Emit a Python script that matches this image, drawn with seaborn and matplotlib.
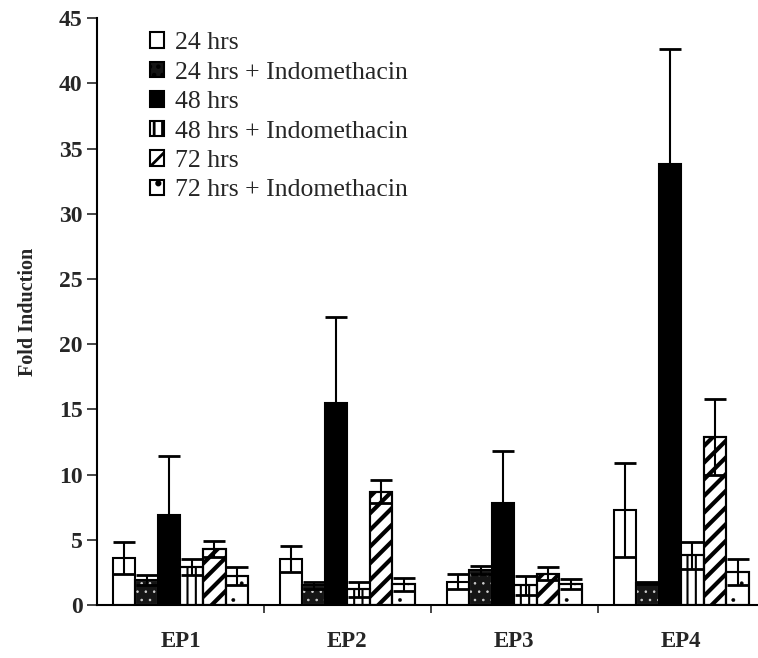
import matplotlib
matplotlib.use("Agg")
import matplotlib.pyplot as plt
import numpy as np
import pandas as pd
import seaborn as sns
from matplotlib.patches import Patch

groups = ["EP1", "EP2", "EP3", "EP4"]
treatments = ["24 hrs", "24 hrs + Indomethacin", "48 hrs",
              "48 hrs + Indomethacin", "72 hrs", "72 hrs + Indomethacin"]

# fold induction (rows = treatment, cols = EP1..EP4)
means = {
    "24 hrs":                [3.6, 3.5, 1.8, 7.3],
    "24 hrs + Indomethacin": [1.9, 1.5, 2.7, 1.7],
    "48 hrs":                [6.9, 15.5, 7.8, 33.8],
    "48 hrs + Indomethacin": [2.9, 1.2, 1.5, 3.8],
    "72 hrs":                [4.3, 8.7, 2.4, 12.9],
    "72 hrs + Indomethacin": [2.2, 1.6, 1.6, 2.5],
}
errs = {
    "24 hrs":                [1.2, 1.0, 0.6, 3.6],
    "24 hrs + Indomethacin": [0.4, 0.3, 0.3, 0.1],
    "48 hrs":                [4.5, 6.6, 4.0, 8.8],
    "48 hrs + Indomethacin": [0.6, 0.6, 0.7, 1.0],
    "72 hrs":                [0.6, 0.9, 0.5, 2.9],
    "72 hrs + Indomethacin": [0.7, 0.5, 0.4, 1.0],
}

faces = ["white", "#151515", "black", "white", "white", "white"]
hatches = [None, "..", None, "||", "//", "."]
hatch_cols = ["black", "#d0d0d0", "black", "black", "black", "black"]
hatch_lw = [1.0, 0.6, 1.0, 1.5, 3.0, 0.3]

rows = []
for t in treatments:
    for g, m, e in zip(groups, means[t], errs[t]):
        rows.append({"group": g, "treatment": t, "fold": m, "err": e})
df = pd.DataFrame(rows)

sns.set_theme(style="white")
plt.rcParams["font.family"] = ["Liberation Serif", "DejaVu Serif"]
plt.rcParams["hatch.linewidth"] = 2.0

fig = plt.figure(figsize=(7.58, 6.58), dpi=100)
ax = fig.add_axes([0.128, 0.0805, 0.872, 0.892])

sns.barplot(data=df, x="group", y="fold", hue="treatment", order=groups,
            hue_order=treatments, errorbar=None, width=0.81,
            palette=["white"] * 6, ax=ax, legend=False)


def style_patch(p, i):
    p.set_facecolor(faces[i])
    p.set_linewidth(1.5)
    if hatches[i]:
        p.set_hatch(hatches[i])
        p.set_edgecolor(hatch_cols[i])
        if hasattr(p, "set_hatch_linewidth"):
            p.set_hatch_linewidth(hatch_lw[i])
    else:
        p.set_edgecolor("black")


# style bars by treatment, then add error bars
bar_conts = list(ax.containers)
for i, cont in enumerate(bar_conts):
    t = treatments[i]
    xs, ys = [], []
    for p in cont.patches:
        style_patch(p, i)
        xs.append(p.get_x() + p.get_width() / 2)
        ys.append(p.get_height())
        if hatches[i]:
            ax.add_patch(plt.Rectangle((p.get_x(), 0), p.get_width(), p.get_height(),
                                       fill=False, edgecolor="black", linewidth=1.5,
                                       zorder=p.get_zorder() + 0.1))
    ax.errorbar(xs, ys, yerr=errs[t], fmt="none", ecolor="black",
                elinewidth=1.5, capsize=8, capthick=2, zorder=5)

# legend
handles = []
for i, t in enumerate(treatments):
    h = Patch(label=t)
    style_patch(h, i)
    h.set_edgecolor("black")
    handles.append(h)
leg = ax.legend(handles=handles, loc="upper left", bbox_to_anchor=(0.080, 0.976),
                frameon=False, fontsize=18.5, handlelength=0.56, handleheight=0.56,
                handletextpad=0.42, labelspacing=0.29, borderaxespad=0.0,
                borderpad=0.0)

ax.set_ylim(0, 45)
ax.set_yticks(np.arange(0, 46, 5))
ax.set_xlim(-0.5, 3.46)
ax.set_xticks([0.5, 1.5, 2.5])
ax.set_xticklabels([])
ax.set_xticks(range(len(groups)), minor=True)
ax.set_xticklabels(groups, minor=True)
ax.tick_params(axis="x", which="major", direction="out", length=6, width=1.2, bottom=True)
ax.tick_params(axis="x", which="minor", length=0, pad=19, labelsize=16.5)
ax.tick_params(axis="y", direction="out", length=7, width=1.2, left=True, labelsize=17)
for lab in ax.get_xticklabels(minor=True) + ax.get_yticklabels():
    lab.set_fontweight("bold")

ax.set_xlabel("")
ax.set_ylabel("Fold Induction", fontsize=14.5, fontweight="bold", labelpad=15)

for s in ["top", "right"]:
    ax.spines[s].set_visible(False)
for s in ["left", "bottom"]:
    ax.spines[s].set_color("black")
    ax.spines[s].set_linewidth(1.5)

fig.savefig("out.png", dpi=100)
